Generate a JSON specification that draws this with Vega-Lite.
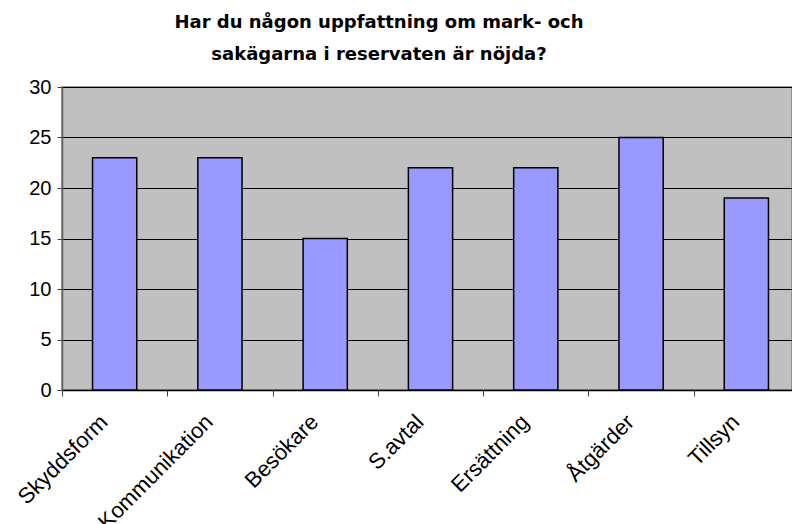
{
  "$schema": "https://vega.github.io/schema/vega-lite/v6.json",
  "width": 730,
  "height": 303,
  "autosize": {"type": "none"},
  "padding": {"left": 62, "top": 87, "right": 0, "bottom": 134},
  "background": "white",
  "title": {
    "text": ["Har du någon uppfattning om mark- och", "sakägarna i reservaten är nöjda?"],
    "font": "DejaVu Sans",
    "fontSize": 18,
    "fontWeight": "bold",
    "color": "black",
    "anchor": "middle",
    "frame": "group",
    "dx": -48,
    "offset": 13,
    "lineHeight": 32
  },
  "config": {
    "view": {"fill": "#C0C0C0", "stroke": "#808080", "strokeWidth": 1.5}
  },
  "data": {
    "values": [
      {"kategori": "Skyddsform", "antal": 23},
      {"kategori": "Kommunikation", "antal": 23},
      {"kategori": "Besökare", "antal": 15},
      {"kategori": "S.avtal", "antal": 22},
      {"kategori": "Ersättning", "antal": 22},
      {"kategori": "Åtgärder", "antal": 25},
      {"kategori": "Tillsyn", "antal": 19}
    ]
  },
  "mark": {"type": "bar", "fill": "#9999FF", "stroke": "black", "strokeWidth": 1.5},
  "encoding": {
    "x": {
      "field": "kategori",
      "type": "nominal",
      "sort": null,
      "scale": {"range": [0, 737], "paddingInner": 0.58, "paddingOuter": 0.29},
      "axis": {
        "title": null,
        "tickOffset": -52.6,
        "labelAngle": -45,
        "labelAlign": "right",
        "labelBaseline": "middle",
        "labelOffset": 41.5,
        "labelPadding": 22,
        "tickSize": 6,
        "tickColor": "#404040",
        "domainColor": "black",
        "domainWidth": 1.5,
        "labelFont": "Liberation Sans",
        "labelFontSize": 22,
        "labelColor": "black",
        "labelOverlap": false,
        "grid": false
      }
    },
    "y": {
      "field": "antal",
      "type": "quantitative",
      "scale": {"domain": [0, 30], "nice": false},
      "axis": {
        "title": null,
        "values": [0, 5, 10, 15, 20, 25, 30],
        "grid": true,
        "gridColor": "black",
        "gridWidth": 1,
        "gridOpacity": 1,
        "domainColor": "#606060",
        "domainWidth": 1.5,
        "tickColor": "#404040",
        "tickSize": 5,
        "labelFont": "Liberation Sans",
        "labelFontSize": 20,
        "labelColor": "black",
        "labelPadding": 6
      }
    }
  }
}
